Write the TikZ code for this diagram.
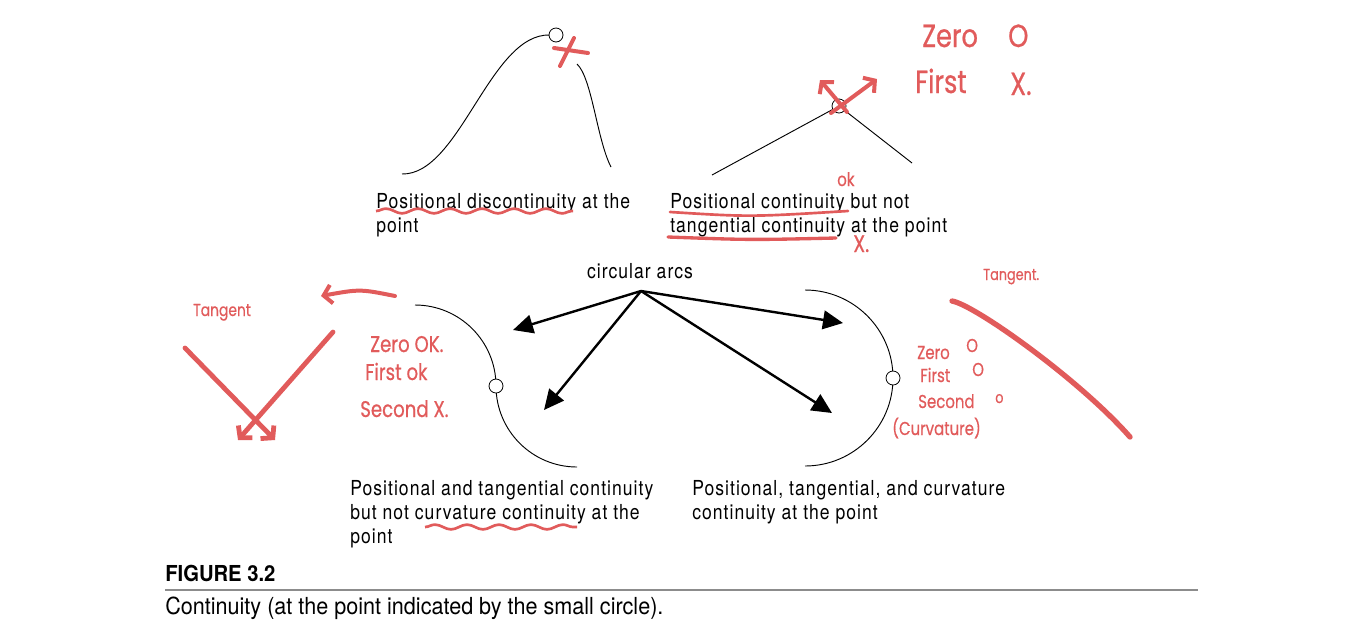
\documentclass[tikz,border=0pt]{standalone}
\usepackage{fontspec}
\setmainfont{TeX Gyre Heros}[FakeStretch=0.85,LetterSpace=5]
\newfontfamily\capfont{TeX Gyre Heros}[FakeStretch=0.92]
\newfontfamily\hand{Poppins}[FakeStretch=0.8,FakeBold=0.6]
\usetikzlibrary{arrows.meta,decorations.pathmorphing}
\definecolor{pen}{HTML}{E15B5B}
\definecolor{rulegray}{gray}{0.55}
\tikzset{
  ink/.style={pen,line width=3pt,line cap=round},
  barb/.style={-{Straight Barb[length=6pt,width=14pt]}},
  wave/.style={pen,line width=2pt,decorate,decoration={snake,amplitude=1.8pt,segment length=24pt}},
  spot/.style={draw,fill=white,circle,inner sep=0pt,minimum size=10.5pt,line width=.6pt},
  txt/.style={anchor=base west,align=left,inner sep=0pt,font=\fontsize{15.5}{18}\selectfont},
  note/.style={pen,anchor=base west,inner sep=0pt,font=\hand\fontsize{17}{20}\selectfont},
  ptr/.style={line width=1.8pt,-{Triangle[length=15pt,width=14pt]}},
}
\begin{document}
\begin{tikzpicture}[x=.75pt,y=-.75pt]
\useasboundingbox (0,0) rectangle (1356,633);
% positional discontinuity
\draw[line width=.7pt] (402,174) .. controls (460,175) and (490,33) .. (550,35);
\draw[line width=.7pt] (577,64) .. controls (592,78) and (597,140) .. (611,167);
\node[spot] (p1) at (556,35) {};
\draw[ink] (554,48) -- (588,53) (574,38) -- (560,66);
% (base of a two-line node = last line)
\node[txt] (t1) at (376,232) {Positional discontinuity at the\\point};
\draw[wave] (376,211) -- (573,211);
% positional continuity only
\node[spot] (p2) at (839,106) {};
\coordinate (l2) at (712,175);
\coordinate (r2) at (912,163);
\draw[line width=.7pt] (l2) -- (p2) -- (r2);
\draw[ink,barb] (847,112) -- (820,80);
\draw[ink,barb] (831,113) -- (877,79);
\node[note,font=\hand\fontsize{24}{26}\selectfont] (z0) at (922,47) {Zero};
\node[note,font=\hand\fontsize{24}{26}\selectfont] at (1008,47) {O};
\node[note,font=\hand\fontsize{24}{26}\selectfont] (f0) at (915,93) {First};
\node[note,font=\hand\fontsize{24}{26}\selectfont] at (1010,95) {X.};
\node[note,font=\hand\fontsize{14}{16}\selectfont] at (837,186) {ok};
\node[txt] (t2) at (670,232) {Positional continuity but not\\tangential continuity at the point};
\draw[pen,line width=2pt,line cap=round] (670,212) .. controls (750,217) .. (848,211);
\draw[pen,line width=2.5pt,line cap=round] (668,237) .. controls (750,240) .. (836,238);
\node[note,font=\hand\fontsize{18}{20}\selectfont] at (853,252) {X.};
% circular arcs
\node[txt,anchor=base] (ca) at (640,278) {circular arcs};
\coordinate (o) at (641,291);
\foreach \tip in {(513,330),(544,410),(843,323),(832,413)}
  \draw[ptr] (o) -- \tip;
% tangential continuity
\draw[line width=.7pt] (415,305) arc (-90:0:81) arc (180:90:81);
\node[spot] (p3) at (496,386) {};
\node[txt] (t3) at (350,543) {Positional and tangential continuity\\but not curvature continuity at the\\point};
\draw[wave] (425,527) -- (577,527);
% curvature continuity
\draw[line width=.7pt] (805,290) arc (-90:90:88);
\node[spot] (p4) at (893,378) {};
\node[txt] (t4) at (692,519) {Positional, tangential, and curvature\\continuity at the point};
% notes left
\node[note,font=\hand\fontsize{13}{15}\selectfont] at (193,316) {Tangent};
\draw[ink,barb] (395,296) .. controls (360,289) .. (321,296);
\draw[ink,barb,line width=3.6pt] (185,348) -- (275,440);
\draw[ink,barb,line width=3.6pt] (333,332) -- (238,440);
\node[note] at (370,352) {Zero OK.};
\node[note] at (365,380) {First ok};
\node[note] at (360,417) {Second X.};
% notes right
\node[note,font=\hand\fontsize{12}{14}\selectfont] at (983,280) {Tangent.};
\draw[ink,line width=4pt] (952,301) .. controls (975,305) and (1080,380) .. (1130,437);
\node[note,font=\hand\fontsize{14}{16}\selectfont] at (917,359) {Zero};
\node[note,font=\hand\fontsize{14}{16}\selectfont] at (966,352) {O};
\node[note,font=\hand\fontsize{14}{16}\selectfont] at (920,382) {First};
\node[note,font=\hand\fontsize{14}{16}\selectfont] at (972,376) {O};
\node[note,font=\hand\fontsize{14}{16}\selectfont] at (918,408) {Second};
\node[note,font=\hand\fontsize{12}{14}\selectfont] at (995,403) {o};
\node[note,font=\hand\fontsize{14}{16}\selectfont] at (892,435) {(Curvature)};
% caption
\node[anchor=base west,inner sep=0pt,font=\capfont\bfseries\fontsize{16.5}{18}\selectfont] (fig) at (165,581) {FIGURE 3.2};
\draw[rulegray,line width=1.5pt] (165,590) -- (1198,590);
\node[anchor=base west,inner sep=0pt,font=\capfont\fontsize{17.6}{20}\selectfont] (cap) at (165,614) {Continuity (at the point indicated by the small circle).};
\end{tikzpicture}
\end{document}
